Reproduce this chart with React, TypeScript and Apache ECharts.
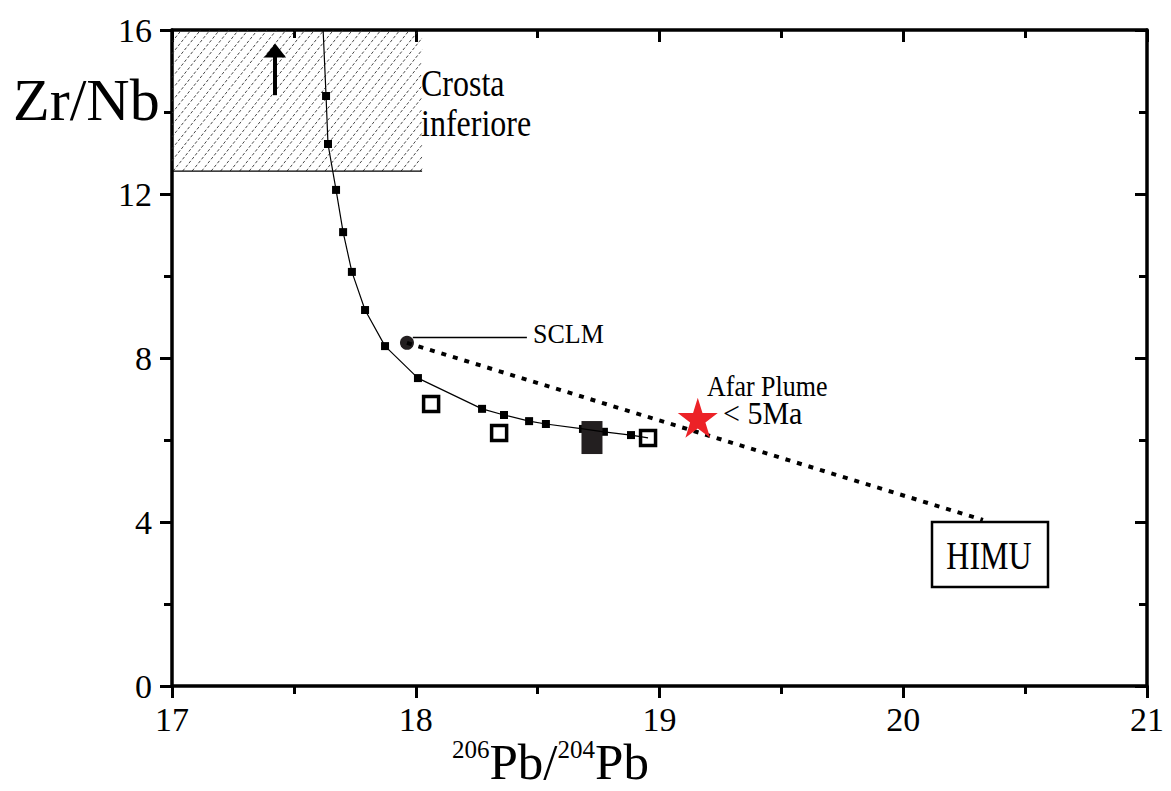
import React, { useEffect, useRef } from 'react';
import * as echarts from 'echarts';

const FONT = 'Liberation Serif';

// Mixing curve (trace, including its ends)
const curveX = [17.62, 17.632, 17.64, 17.673, 17.702, 17.738, 17.792, 17.874, 18.009, 18.272, 18.362, 18.465, 18.534, 18.686, 18.772, 18.883, 18.953];
const curveY = [16, 14.39, 13.22, 12.1, 11.07, 10.1, 9.17, 8.29, 7.51, 6.76, 6.61, 6.46, 6.39, 6.27, 6.2, 6.12, 6.05];

// Small squares along the curve
const tickPtsX = [17.632, 17.64, 17.673, 17.702, 17.738, 17.792, 17.874, 18.009, 18.272, 18.362, 18.465, 18.534, 18.686, 18.772, 18.883];
const tickPtsY = [14.39, 13.22, 12.1, 11.07, 10.1, 9.17, 8.29, 7.51, 6.76, 6.61, 6.46, 6.39, 6.27, 6.2, 6.12];

// Open squares (samples)
const openX = [18.063, 18.342, 18.953];
const openY = [6.88, 6.17, 6.05];

// Filled large sample
const filledX = [18.723];
const filledY = [6.06];

// End members
const sclm = [17.964, 8.37];
const himu = [20.327, 4.05];
const afar = [19.157, 6.54];

// Lower crust field
const crustX = [17, 18.026];
const crustY = [12.56, 16];
const arrowX = 17.423;
const arrowY = [14.41, 15.5];

const xTicks = { min: 17, max: 21, interval: 1 };
const yTicks = { min: 0, max: 16, interval: 4 };

const STAR = 'path://M50,0 L61.2,34.5 L97.6,34.5 L68.2,55.9 L79.4,90.5 L50,69.1 L20.6,90.5 L31.8,55.9 L2.4,34.5 L38.8,34.5 Z';

export default function App() {
  const ref = useRef<HTMLDivElement>(null);
  useEffect(() => {
    const chart = echarts.init(ref.current!, null, { renderer: 'svg' });
    const axisCommon = (pos: string, inside: boolean, labels: boolean, t: any) => ({
      type: 'value',
      position: pos,
      min: t.min,
      max: t.max,
      interval: t.interval,
      axisLine: { show: true, onZero: false, lineStyle: { color: '#000', width: 3.5 } },
      axisTick: { show: true, inside, length: 12, lineStyle: { color: '#000', width: 3 } },
      minorTick: { show: true, splitNumber: 2, length: 8, lineStyle: { color: '#000', width: 3 } },
      splitLine: { show: false },
      minorSplitLine: { show: false },
      axisLabel: {
        show: labels,
        color: '#000',
        fontFamily: FONT,
        fontSize: 34,
        margin: 20,
      },
    });
    const xa0: any = axisCommon('bottom', false, true, xTicks);
    xa0.axisLabel.margin = 16;
    const xa1: any = axisCommon('top', true, false, xTicks);
    const ya0: any = axisCommon('left', false, true, yTicks);
    ya0.axisLabel.padding = [0, 0, 10, 0];
    const ya1: any = axisCommon('right', true, false, yTicks);

    const txt = (text: string, x: number, y: number, size: number, sy: number, align = 'left') => ({
      type: 'text', x, y, scaleY: sy,
      style: { text, fontFamily: FONT, fontSize: size, fill: '#000', align, verticalAlign: 'middle' },
    });

    const option: any = {
      animation: false,
      backgroundColor: '#fff',
      grid: { left: 172, right: 24, top: 30, bottom: 105, show: false },
      xAxis: [xa0, xa1],
      yAxis: [ya0, ya1],
      series: [
        {
          type: 'custom',
          silent: true,
          clip: false,
          data: [[crustX[0], crustX[1], crustY[0], crustY[1]]],
          encode: { x: [0, 1], y: [2, 3] },
          renderItem: (params: any, api: any) => {
            const tl = api.coord([api.value(0), api.value(3)]);
            const br = api.coord([api.value(1), api.value(2)]);
            const x0 = tl[0], y0 = tl[1], x1 = br[0], y1 = br[1];
            const h = y1 - y0;
            const s = 0.8;
            const step = 9.5;
            const children: any[] = [];
            for (let c = x0 - h * s; c < x1; c += step) {
              const tlo = Math.max(0, (x0 - c) / s);
              const thi = Math.min(h, (x1 - c) / s);
              if (thi > tlo) {
                children.push({
                  type: 'line',
                  shape: { x1: c + tlo * s, y1: y1 - tlo, x2: c + thi * s, y2: y1 - thi },
                  style: { stroke: '#333', lineWidth: 0.9, lineDash: [3, 2] },
                });
              }
            }
            children.push({
              type: 'line',
              shape: { x1: x0, y1: y1, x2: x1, y2: y1 },
              style: { stroke: '#000', lineWidth: 1.3 },
            });
            return { type: 'group', children };
          },
        },
        {
          type: 'line',
          data: curveX.map((x, i) => [x, curveY[i]]),
          showSymbol: false,
          symbol: 'none',
          silent: true,
          lineStyle: { color: '#000', width: 1.2 },
          markLine: {
            silent: true,
            symbol: ['none', 'triangle'],
            symbolSize: [22, 14],
            label: { show: false },
            lineStyle: { color: '#000', width: 4, type: 'solid', opacity: 1 },
            itemStyle: { color: '#000' },
            data: [[{ coord: [arrowX, arrowY[0]] }, { coord: [arrowX, arrowY[1]] }]],
          },
        },
        {
          type: 'line',
          data: [sclm, himu],
          showSymbol: false,
          symbol: 'none',
          silent: true,
          lineStyle: { color: '#000', width: 4, type: [5, 7], cap: 'butt' },
        },
        {
          type: 'scatter',
          data: tickPtsX.map((x, i) => [x, tickPtsY[i]]),
          symbol: 'rect',
          symbolSize: 8,
          itemStyle: { color: '#000', opacity: 1 },
          silent: true,
        },
        {
          type: 'scatter',
          data: openX.map((x, i) => [x, openY[i]]),
          symbol: 'rect',
          symbolSize: 15,
          itemStyle: { color: '#fff', borderColor: '#000', borderWidth: 3.5, opacity: 1 },
          silent: true,
        },
        {
          type: 'scatter',
          data: filledX.map((x, i) => [x, filledY[i]]),
          symbol: 'rect',
          symbolSize: [21, 33],
          itemStyle: { color: '#231f20', opacity: 1 },
          silent: true,
        },
        {
          type: 'scatter',
          data: [sclm],
          symbol: 'circle',
          symbolSize: 14,
          itemStyle: { color: '#231f20', opacity: 1 },
          silent: true,
          markLine: {
            silent: true,
            symbol: ['none', 'none'],
            label: { show: false },
            lineStyle: { color: '#000', width: 1.3, type: 'solid', opacity: 1 },
            data: [[{ coord: [17.988, 8.5] }, { coord: [18.456, 8.5] }]],
          },
        },
        {
          type: 'scatter',
          data: [afar],
          symbol: STAR,
          symbolSize: 40,
          itemStyle: { color: '#ec2227', opacity: 1 },
          silent: true,
          z: 5,
        },
      ],
      graphic: [
        txt('Zr/Nb', 13, 100, 60, 1),
        {
          type: 'text', x: 452, y: 737,
          style: {
            text: '{s|206}{b|Pb/}{s|204}{b|Pb}',
            align: 'left', verticalAlign: 'top', fill: '#000',
            rich: {
              s: { fontFamily: FONT, fontSize: 25, lineHeight: 14, verticalAlign: 'top', fill: '#000' },
              b: { fontFamily: FONT, fontSize: 51, lineHeight: 50, fill: '#000' },
            },
          },
        },
        txt('Crosta', 421, 84, 32, 1.2),
        txt('inferiore', 421, 124, 32, 1.2),
        txt('SCLM', 533, 334, 26, 1.08),
        txt('Afar Plume', 707, 386, 26, 1.15),
        txt('< 5Ma', 723, 414, 30, 1.05),
        {
          type: 'rect',
          shape: { x: 932, y: 522, width: 116, height: 65 },
          style: { fill: '#fff', stroke: '#000', lineWidth: 2.5 },
        },
        txt('HIMU', 989, 556, 32, 1.25, 'center'),
      ],
    };
    chart.setOption(option);
    return () => chart.dispose();
  }, []);
  return (
    <div
      ref={ref}
      style={{ position: 'absolute', left: 0, top: 0, width: 1171, height: 791, background: '#fff' }}
    />
  );
}
